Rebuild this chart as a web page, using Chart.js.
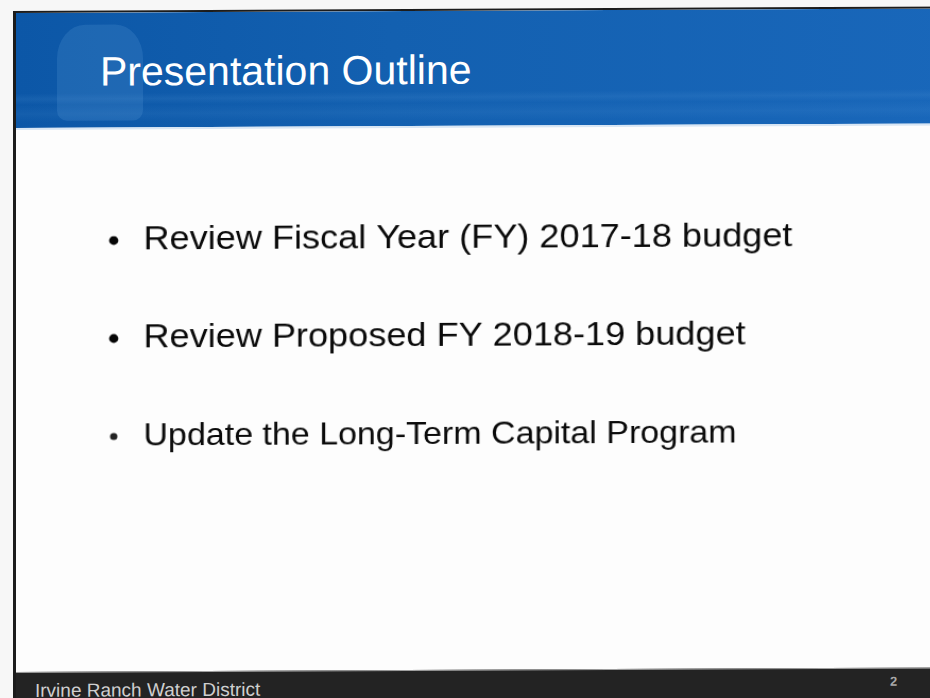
<!DOCTYPE html>
<html>
<head>
<meta charset="utf-8">
<title>Presentation Outline</title>
<script src="https://cdn.jsdelivr.net/npm/chart.js@4.4.1/dist/chart.umd.min.js"></script>
<style>
  html, body {
    margin: 0;
    padding: 0;
    width: 930px;
    height: 698px;
    overflow: hidden;
    background: #f7f7f7;
    font-family: "Liberation Sans", Arial, sans-serif;
  }
  /* the scanned slide sits a little crooked on the page */
  #slide {
    position: absolute;
    left: 13px;
    top: 11px;
    width: 940px;
    height: 700px;
    background: #fdfdfd;
    border-left: 3px solid #1c1c1c;
    border-top: 2px solid #1c1c1c;
    transform: skewY(-0.28deg);
    transform-origin: 0 0;
    overflow: hidden;
  }
  #header {
    position: absolute;
    left: 0; right: 0; top: 0;
    height: 115px;
    background:
      linear-gradient(180deg, rgba(255,255,255,0) 0%, rgba(255,255,255,0) 70%,
        rgba(120,180,235,0.10) 75%, rgba(255,255,255,0) 80%,
        rgba(120,180,235,0.08) 88%, rgba(255,255,255,0) 95%),
      linear-gradient(90deg, #0c57a7 0%, #1360b0 40%, #1967ba 100%);
  }
  #drop {
    position: absolute;
    left: 41px; top: 12px;
    width: 86px; height: 96px;
    border-radius: 28px 28px 10px 10px / 34px 34px 10px 10px;
    background: rgba(110,170,230,0.18);
  }
  #title {
    position: absolute;
    left: 84px; top: 39px;
    font-size: 41px;
    line-height: 41px;
    color: #ffffff;
    white-space: nowrap;
  }
  #rule {
    position: absolute;
    left: 0; right: 0; top: 115px;
    height: 2px;
    background: #d8e6f4;
  }
  #outline {
    position: absolute;
    left: 0; top: 117px;
    transform: scaleX(1.062);
    transform-origin: 0 0;
  }
  #footer {
    position: absolute;
    left: 0; right: 0; top: 659px;
    height: 60px;
    background: #232323;
    border-top: 1px solid #a0a0a0;
  }
  #org {
    position: absolute;
    left: 19px; top: 8px;
    font-size: 19px;
    line-height: 19px;
    color: #cfcfcf;
    white-space: nowrap;
  }
  #page {
    position: absolute;
    left: 874px; top: 6px;
    font-size: 13px;
    line-height: 13px;
    font-weight: bold;
    color: #a8a8a8;
  }
</style>
</head>
<body>
<div id="slide">
  <div id="header">
    <div id="drop"></div>
    <div id="title">Presentation Outline</div>
  </div>
  <div id="rule"></div>
  <canvas id="outline" width="850" height="540"></canvas>
  <div id="footer">
    <div id="org">Irvine Ranch Water District</div>
    <div id="page">2</div>
  </div>
</div>

<script>
// Outline items (one bullet each)
const outlineItems = [
    'Review Fiscal Year (FY) 2017-18 budget',
    'Review Proposed FY 2018-19 budget',
    'Update the Long-Term Capital Program'
];
// every bullet sits on the same column
const bulletX = [0, 0, 0];

// styling per item
const itemFontSizes = [34, 34, 32];
const bulletRadius = [4.4, 4.4, 3.5];
const bulletColor = ['#050505', '#050505', '#222222'];

document.addEventListener('DOMContentLoaded', function() {
    const ctx = document.getElementById('outline').getContext('2d');

    new Chart(ctx, {
        type: 'scatter',
        data: {
            labels: outlineItems,
            datasets: [{
                data: outlineItems.map((item, i) => ({ x: bulletX[i], y: item })),
                pointRadius: bulletRadius,
                pointHoverRadius: bulletRadius,
                pointBackgroundColor: bulletColor,
                pointBorderWidth: 0,
                showLine: false
            }]
        },
        options: {
            responsive: false,
            animation: false,
            layout: {
                padding: { left: 82, right: 0, top: 111, bottom: 233 }
            },
            plugins: {
                legend: { display: false },
                tooltip: { enabled: false }
            },
            scales: {
                x: {
                    type: 'linear',
                    min: -1,
                    max: 1,
                    display: false
                },
                y: {
                    type: 'category',
                    labels: outlineItems,
                    position: 'right',
                    offset: false,
                    grid: { display: false, drawTicks: false },
                    border: { display: false },
                    ticks: {
                        autoSkip: false,
                        padding: 18,
                        color: '#0a0a0a',
                        font: c => ({
                            family: '"Liberation Sans", Arial, sans-serif',
                            size: itemFontSizes[c.index] || 34
                        })
                    },
                    afterFit: scale => { scale.width = 748; }
                }
            }
        }
    });
});
</script>
</body>
</html>
